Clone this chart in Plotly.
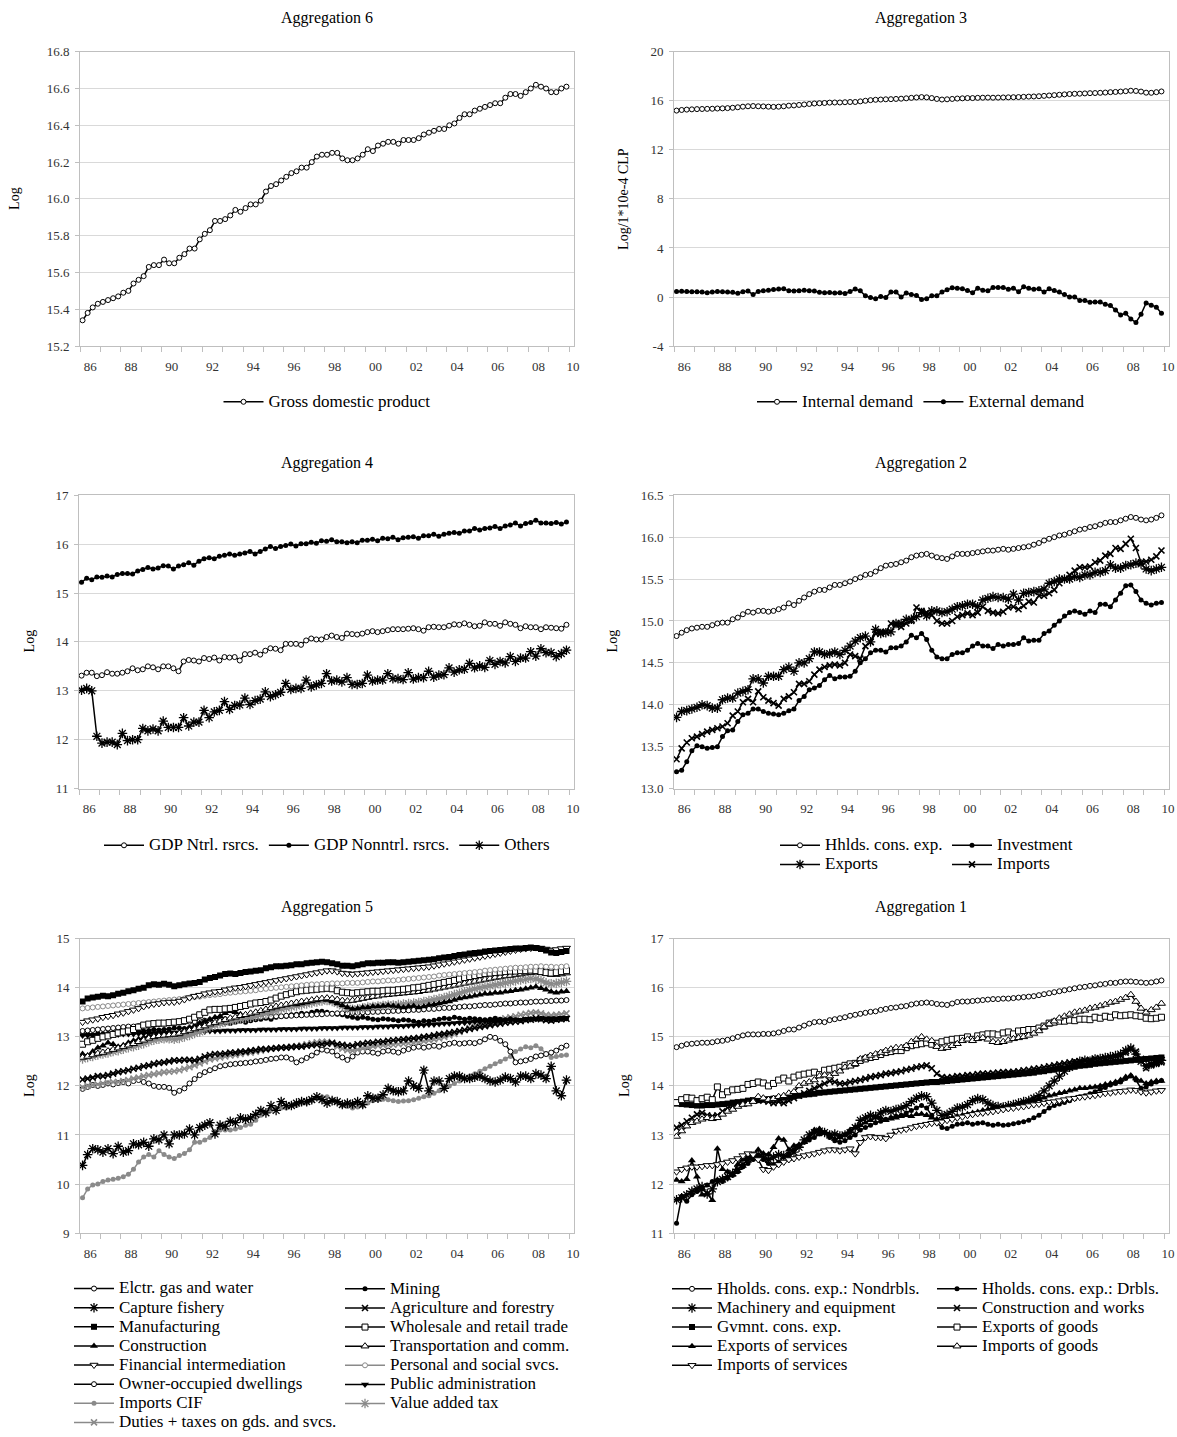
import plotly.graph_objects as go

# ---------------- time axis (quarterly 1986Q1 - 2009Q4) ----------------
YEARS = list(range(1986, 2010))
QUARTERS = [(y, q) for y in YEARS for q in (1, 2, 3, 4)]
XQ = [y + (q - 0.5) / 4 for (y, q) in QUARTERS]

TICK_TEXT = ["86", "88", "90", "92", "94", "96", "98", "00", "02", "04", "06", "08", "10"]

# ---------------- Aggregation 6 ----------------
gdp = [15.34,15.38,15.41,15.43, 15.44,15.45,15.46,15.47, 15.49,15.50,15.54,15.56, 15.58,15.63,15.64,15.64,
       15.67,15.65,15.65,15.68, 15.70,15.73,15.73,15.78, 15.81,15.83,15.88,15.88, 15.89,15.91,15.94,15.93,
       15.95,15.97,15.97,15.99, 16.04,16.07,16.08,16.10, 16.12,16.14,16.15,16.17, 16.17,16.20,16.23,16.24,
       16.24,16.25,16.25,16.22, 16.21,16.21,16.22,16.24, 16.27,16.26,16.29,16.30, 16.31,16.31,16.30,16.32,
       16.32,16.32,16.33,16.35, 16.36,16.37,16.38,16.38, 16.40,16.41,16.44,16.46, 16.46,16.48,16.49,16.50,
       16.51,16.52,16.52,16.55, 16.57,16.57,16.56,16.58, 16.60,16.62,16.61,16.60, 16.58,16.58,16.60,16.61]

# ---------------- Aggregation 3 ----------------
internal_demand = [15.20,15.25,15.28,15.30, 15.32,15.33,15.34,15.35, 15.37,15.38,15.40,15.43, 15.47,15.52,15.55,15.57,
                   15.55,15.54,15.52,15.50, 15.52,15.55,15.60,15.62, 15.66,15.70,15.74,15.78, 15.80,15.82,15.85,15.86,
                   15.86,15.88,15.90,15.90, 15.95,16.00,16.05,16.08, 16.10,16.12,16.13,16.15, 16.17,16.20,16.24,16.27,
                   16.30,16.28,16.22,16.15, 16.10,16.12,16.15,16.18, 16.20,16.22,16.22,16.24, 16.25,16.26,16.25,16.26,
                   16.27,16.28,16.29,16.30, 16.32,16.34,16.35,16.37, 16.40,16.43,16.46,16.49, 16.52,16.55,16.57,16.58,
                   16.60,16.62,16.63,16.65, 16.67,16.70,16.72,16.75, 16.78,16.82,16.80,16.75, 16.66,16.65,16.70,16.76]
external_demand = [0.45,0.46,0.45,0.42, 0.42,0.40,0.35,0.40, 0.45,0.42,0.40,0.38, 0.30,0.42,0.48,0.20,
                   0.45,0.50,0.55,0.62, 0.65,0.68,0.50,0.48, 0.50,0.55,0.52,0.48, 0.38,0.35,0.36,0.33,
                   0.35,0.28,0.45,0.65, 0.50,0.10,-0.05,-0.15, 0.05,-0.05,0.40,0.40, 0.00,0.32,0.21,0.13,
                   -0.20,-0.15,0.10,0.10, 0.40,0.60,0.75,0.72, 0.67,0.53,0.35,0.72, 0.56,0.50,0.77,0.77,
                   0.77,0.64,0.72,0.43, 0.83,0.72,0.64,0.67, 0.40,0.67,0.53,0.40, 0.21,0.00,0.00,-0.29,
                   -0.29,-0.43,-0.40,-0.40, -0.60,-0.70,-1.05,-1.47, -1.33,-1.79,-2.08,-1.41, -0.48,-0.67,-0.83,-1.33]

# ---------------- Aggregation 4 ----------------
gdp_ntrl = [13.31,13.37,13.37,13.30, 13.32,13.38,13.35,13.35, 13.37,13.40,13.46,13.42, 13.44,13.50,13.48,13.44,
            13.50,13.50,13.46,13.40, 13.60,13.63,13.62,13.60, 13.67,13.65,13.68,13.62, 13.69,13.68,13.69,13.62,
            13.75,13.75,13.78,13.74, 13.82,13.87,13.86,13.83, 13.96,13.96,13.96,13.94, 14.03,14.07,14.05,14.05,
            14.10,14.13,14.10,14.08, 14.17,14.16,14.15,14.17, 14.20,14.22,14.20,14.22, 14.24,14.26,14.26,14.26,
            14.27,14.28,14.26,14.23, 14.30,14.31,14.30,14.30, 14.33,14.36,14.35,14.38, 14.35,14.32,14.33,14.40,
            14.37,14.37,14.33,14.40, 14.37,14.35,14.28,14.32, 14.30,14.30,14.26,14.30, 14.29,14.28,14.27,14.35]
gdp_nonntrl = [15.22,15.30,15.27,15.33, 15.32,15.35,15.33,15.38, 15.40,15.40,15.39,15.45, 15.48,15.52,15.49,15.51,
               15.56,15.55,15.49,15.55, 15.58,15.62,15.57,15.65, 15.70,15.72,15.70,15.75, 15.77,15.80,15.77,15.80,
               15.82,15.85,15.80,15.85, 15.90,15.95,15.91,15.95, 15.97,16.00,15.96,16.01, 16.01,16.04,16.02,16.07,
               16.06,16.09,16.05,16.05, 16.03,16.05,16.03,16.08, 16.08,16.10,16.07,16.12, 16.11,16.14,16.09,16.13,
               16.14,16.15,16.12,16.17, 16.17,16.20,16.16,16.20, 16.22,16.24,16.22,16.27, 16.27,16.32,16.29,16.32,
               16.33,16.36,16.32,16.37, 16.39,16.43,16.37,16.42, 16.44,16.49,16.43,16.43, 16.42,16.44,16.41,16.45]
others = [13.01,13.05,13.00,12.07, 11.93,11.95,11.95,11.90, 12.13,11.98,12.00,12.00, 12.23,12.18,12.22,12.18,
          12.38,12.25,12.25,12.25, 12.45,12.28,12.36,12.36, 12.60,12.45,12.57,12.60, 12.78,12.62,12.70,12.71,
          12.85,12.72,12.80,12.83, 12.98,12.88,12.92,12.97, 13.15,13.03,13.05,13.05, 13.22,13.08,13.12,13.15,
          13.35,13.20,13.22,13.18, 13.27,13.13,13.13,13.15, 13.32,13.20,13.22,13.22, 13.35,13.25,13.25,13.23,
          13.37,13.24,13.27,13.27, 13.40,13.28,13.32,13.33, 13.47,13.38,13.43,13.44, 13.56,13.47,13.51,13.48,
          13.62,13.54,13.60,13.57, 13.70,13.60,13.67,13.67, 13.80,13.71,13.86,13.78, 13.78,13.70,13.76,13.83]

# ---------------- Aggregation 2 ----------------
hh_cons = [14.82,14.86,14.89,14.91, 14.92,14.93,14.93,14.95, 14.97,14.98,14.98,15.02, 15.04,15.08,15.11,15.10,
           15.12,15.12,15.11,15.12, 15.14,15.16,15.21,15.19, 15.24,15.28,15.32,15.35, 15.37,15.37,15.40,15.43,
           15.43,15.45,15.47,15.50, 15.52,15.55,15.56,15.59, 15.63,15.66,15.67,15.68, 15.70,15.72,15.76,15.78,
           15.79,15.80,15.78,15.76, 15.75,15.74,15.77,15.80, 15.80,15.80,15.81,15.82, 15.83,15.84,15.84,15.85,
           15.86,15.85,15.86,15.87, 15.88,15.89,15.91,15.93, 15.96,15.98,16.00,16.02, 16.03,16.05,16.07,16.09,
           16.10,16.12,16.13,16.15, 16.17,16.18,16.18,16.20, 16.22,16.24,16.23,16.21, 16.20,16.21,16.23,16.26]
investment = [13.20,13.22,13.32,13.45, 13.51,13.50,13.48,13.49, 13.50,13.62,13.69,13.70, 13.80,13.88,13.90,13.95,
              13.95,13.92,13.90,13.89, 13.88,13.90,13.93,13.95, 14.05,14.10,14.18,14.20, 14.23,14.30,14.35,14.31,
              14.33,14.33,14.34,14.40, 14.50,14.55,14.62,14.65, 14.65,14.63,14.68,14.68, 14.70,14.75,14.83,14.80,
              14.85,14.78,14.65,14.57, 14.55,14.55,14.60,14.62, 14.62,14.65,14.70,14.73, 14.70,14.70,14.67,14.72,
              14.70,14.72,14.72,14.73, 14.80,14.76,14.77,14.77, 14.85,14.88,14.95,15.00, 15.06,15.10,15.12,15.10,
              15.08,15.12,15.10,15.20, 15.20,15.17,15.25,15.33, 15.42,15.43,15.35,15.25, 15.21,15.19,15.21,15.22]
exports = [13.85,13.92,13.93,13.95, 13.97,14.00,13.99,13.96, 13.96,14.06,14.08,14.08, 14.14,14.16,14.18,14.31,
           14.31,14.26,14.34,14.34, 14.34,14.42,14.45,14.40, 14.50,14.50,14.55,14.63, 14.63,14.60,14.61,14.63,
           14.60,14.65,14.70,14.76, 14.80,14.82,14.75,14.90, 14.85,14.86,14.87,14.97, 14.97,15.02,15.02,15.05,
           15.10,15.06,15.12,15.12, 15.10,15.11,15.14,15.17, 15.18,15.20,15.20,15.17, 15.25,15.27,15.29,15.28,
           15.28,15.26,15.32,15.25, 15.33,15.34,15.35,15.36, 15.38,15.45,15.47,15.50, 15.50,15.50,15.53,15.52,
           15.55,15.55,15.58,15.58, 15.60,15.67,15.63,15.63, 15.66,15.67,15.69,15.68, 15.62,15.60,15.62,15.64]
imports = [13.35,13.48,13.55,13.60, 13.62,13.65,13.68,13.70, 13.72,13.74,13.78,13.87, 13.92,14.03,14.07,14.03,
           14.16,14.09,14.05,14.02, 13.99,14.07,14.10,14.15, 14.25,14.25,14.28,14.36, 14.42,14.45,14.47,14.48,
           14.47,14.50,14.60,14.58, 14.55,14.70,14.75,14.85, 14.87,14.87,14.97,14.95, 14.93,14.97,15.00,15.16,
           15.12,15.10,15.07,15.00, 14.97,14.97,15.00,15.05, 15.07,15.09,15.07,15.10, 15.17,15.12,15.10,15.09,
           15.11,15.16,15.17,15.14, 15.18,15.23,15.22,15.30, 15.30,15.33,15.37,15.45, 15.50,15.55,15.60,15.64,
           15.64,15.65,15.70,15.72, 15.78,15.80,15.87,15.86, 15.92,15.98,15.87,15.70, 15.71,15.73,15.77,15.84]

# ---------------- Aggregation 5 ----------------
elctr = [11.94,11.98,12.02,12.00, 12.02,12.05,12.03,12.06, 12.08,12.05,12.10,12.12, 12.08,12.05,12.00,11.98,
         11.98,11.96,11.86,11.90, 11.95,12.05,12.14,12.22, 12.28,12.32,12.36,12.40, 12.42,12.44,12.45,12.46,
         12.47,12.48,12.50,12.51, 12.53,12.55,12.56,12.58, 12.58,12.55,12.48,12.52, 12.57,12.62,12.68,12.74,
         12.72,12.70,12.62,12.58, 12.53,12.60,12.68,12.70, 12.70,12.68,12.66,12.70, 12.72,12.70,12.68,12.72,
         12.75,12.78,12.80,12.78, 12.80,12.82,12.80,12.84, 12.86,12.88,12.86,12.87, 12.88,12.87,12.90,12.95,
         13.00,12.98,12.92,12.85, 12.70,12.48,12.50,12.52, 12.55,12.60,12.62,12.65, 12.68,12.72,12.78,12.82]
mining = [13.05,13.06,13.04,13.07, 13.06,13.07,13.08,13.07, 13.08,13.10,13.09,13.11, 13.12,13.13,13.15,13.14,
          13.15,13.16,13.18,13.18, 13.17,13.19,13.22,13.24, 13.26,13.24,13.26,13.28, 13.28,13.27,13.30,13.32,
          13.30,13.33,13.35,13.36, 13.38,13.36,13.40,13.42, 13.42,13.45,13.46,13.48, 13.47,13.50,13.52,13.52,
          13.50,13.48,13.46,13.45, 13.42,13.40,13.38,13.40, 13.38,13.36,13.35,13.37, 13.36,13.35,13.33,13.35,
          13.34,13.32,13.30,13.33, 13.32,13.34,13.36,13.38, 13.37,13.40,13.38,13.36, 13.38,13.37,13.36,13.35,
          13.36,13.38,13.36,13.35, 13.37,13.35,13.34,13.36, 13.37,13.36,13.38,13.35, 13.34,13.35,13.36,13.37]
capture_fishery = [10.38,10.60,10.72,10.70, 10.65,10.72,10.62,10.77, 10.65,10.68,10.82,10.80, 10.85,10.77,10.92,10.90,
                   11.00,10.82,11.00,11.00, 11.02,11.12,11.00,11.15, 11.20,11.25,11.02,11.20, 11.18,11.28,11.25,11.35,
                   11.32,11.35,11.42,11.50, 11.45,11.60,11.50,11.68, 11.60,11.60,11.65,11.68, 11.68,11.72,11.78,11.72,
                   11.65,11.70,11.68,11.62, 11.65,11.63,11.68,11.62, 11.80,11.75,11.75,11.82, 11.95,11.90,11.88,11.90,
                   12.10,12.00,11.95,12.32, 11.90,12.10,12.10,11.95, 12.15,12.20,12.20,12.15, 12.15,12.18,12.20,12.15,
                   12.10,12.08,12.12,12.18, 12.15,12.08,12.20,12.20, 12.15,12.25,12.22,12.15, 12.40,11.90,11.80,12.12]
agriculture = [12.13,12.15,12.17,12.20, 12.20,12.22,12.25,12.28, 12.30,12.32,12.35,12.37, 12.40,12.42,12.45,12.47,
               12.48,12.50,12.52,12.52, 12.53,12.53,12.52,12.55, 12.60,12.63,12.65,12.65, 12.66,12.68,12.68,12.70,
               12.70,12.72,12.73,12.75, 12.75,12.76,12.77,12.78, 12.78,12.79,12.80,12.80, 12.82,12.83,12.84,12.85,
               12.86,12.88,12.85,12.84, 12.82,12.82,12.85,12.86, 12.88,12.88,12.90,12.90, 12.92,12.93,12.94,12.95,
               12.96,12.97,12.98,13.00, 13.01,13.03,13.05,13.06, 13.08,13.10,13.12,13.14, 13.16,13.18,13.20,13.22,
               13.24,13.26,13.27,13.29, 13.30,13.31,13.32,13.34, 13.35,13.38,13.36,13.34, 13.33,13.35,13.36,13.37]
manufacturing = [13.72,13.78,13.80,13.82, 13.84,13.83,13.85,13.88, 13.90,13.93,13.95,13.98, 14.00,14.05,14.07,14.06,
                 14.08,14.06,14.03,14.05, 14.07,14.09,14.10,14.12, 14.17,14.20,14.22,14.25, 14.28,14.29,14.28,14.30,
                 14.32,14.33,14.35,14.36, 14.40,14.42,14.44,14.44, 14.45,14.46,14.48,14.48, 14.50,14.51,14.52,14.53,
                 14.52,14.50,14.48,14.45, 14.45,14.44,14.46,14.48, 14.50,14.50,14.51,14.51, 14.52,14.52,14.51,14.52,
                 14.53,14.54,14.55,14.56, 14.57,14.58,14.60,14.62, 14.63,14.65,14.67,14.68, 14.70,14.71,14.72,14.74,
                 14.75,14.76,14.77,14.78, 14.79,14.80,14.80,14.81, 14.82,14.81,14.79,14.76, 14.72,14.71,14.73,14.75]
wholesale = [12.85,12.90,12.93,12.97, 13.00,13.02,13.05,13.08, 13.10,13.12,13.15,13.20, 13.24,13.26,13.27,13.28,
             13.28,13.29,13.30,13.31, 13.33,13.36,13.40,13.45, 13.50,13.55,13.56,13.56, 13.57,13.58,13.60,13.62,
             13.64,13.67,13.69,13.70, 13.72,13.75,13.79,13.83, 13.86,13.89,13.92,13.94, 13.95,13.96,13.97,13.98,
             13.99,13.98,13.94,13.91, 13.90,13.89,13.90,13.91, 13.92,13.93,13.93,13.94, 13.95,13.95,13.96,13.97,
             13.98,14.00,14.01,14.03, 14.05,14.07,14.09,14.11, 14.13,14.15,14.18,14.21, 14.23,14.25,14.27,14.29,
             14.30,14.31,14.32,14.33, 14.34,14.34,14.35,14.35, 14.36,14.35,14.33,14.31, 14.30,14.31,14.33,14.35]
construction = [12.65,12.62,12.70,12.78, 12.82,12.88,12.85,12.80, 12.83,12.88,12.92,12.95, 12.98,13.02,13.05,13.08,
                13.08,13.06,13.04,13.05, 13.10,13.15,13.20,13.28, 13.32,13.36,13.40,13.42, 13.48,13.52,13.50,13.46,
                13.45,13.47,13.50,13.52, 13.55,13.58,13.60,13.63, 13.65,13.67,13.66,13.68, 13.70,13.72,13.74,13.76,
                13.75,13.72,13.68,13.64, 13.60,13.57,13.58,13.60, 13.60,13.62,13.62,13.63, 13.64,13.63,13.62,13.60,
                13.62,13.63,13.60,13.62, 13.65,13.66,13.68,13.70, 13.72,13.75,13.78,13.80, 13.82,13.84,13.86,13.88,
                13.88,13.90,13.90,13.92, 13.93,13.95,13.96,13.98, 14.00,14.02,13.99,13.96, 13.92,13.90,13.92,13.93]
transport = [12.58,12.60,12.63,12.66, 12.68,12.71,12.74,12.77, 12.80,12.83,12.86,12.90, 12.93,12.97,13.00,13.02,
             13.03,13.04,13.05,13.07, 13.10,13.13,13.16,13.19, 13.22,13.26,13.29,13.32, 13.35,13.38,13.40,13.43,
             13.45,13.48,13.50,13.53, 13.56,13.59,13.62,13.64, 13.66,13.68,13.70,13.72, 13.73,13.75,13.77,13.78,
             13.79,13.78,13.76,13.74, 13.73,13.74,13.76,13.78, 13.80,13.82,13.83,13.85, 13.86,13.87,13.88,13.89,
             13.90,13.91,13.92,13.94, 13.95,13.97,13.99,14.01, 14.03,14.05,14.07,14.09, 14.11,14.13,14.15,14.17,
             14.19,14.21,14.22,14.24, 14.25,14.27,14.28,14.30, 14.31,14.32,14.31,14.29, 14.27,14.27,14.28,14.30]
financial = [13.30,13.33,13.35,13.37, 13.40,13.42,13.44,13.47, 13.49,13.52,13.55,13.58, 13.62,13.65,13.67,13.68,
             13.70,13.71,13.71,13.73, 13.76,13.80,13.83,13.85, 13.88,13.90,13.92,13.93, 13.96,13.98,14.00,14.01,
             14.03,14.05,14.07,14.09, 14.11,14.13,14.15,14.17, 14.19,14.21,14.23,14.25, 14.27,14.29,14.31,14.33,
             14.35,14.35,14.33,14.30, 14.29,14.28,14.29,14.30, 14.31,14.32,14.33,14.34, 14.35,14.36,14.37,14.38,
             14.39,14.40,14.41,14.42, 14.43,14.45,14.47,14.49, 14.51,14.53,14.55,14.57, 14.59,14.61,14.63,14.65,
             14.67,14.69,14.71,14.73, 14.75,14.77,14.79,14.80, 14.81,14.82,14.81,14.79, 14.77,14.78,14.80,14.81]
personal = [13.58,13.59,13.60,13.61, 13.62,13.63,13.64,13.65, 13.66,13.67,13.68,13.69, 13.70,13.71,13.72,13.73,
            13.74,13.75,13.76,13.77, 13.78,13.80,13.81,13.82, 13.84,13.85,13.86,13.87, 13.89,13.90,13.91,13.92,
            13.93,13.94,13.95,13.97, 13.98,13.99,14.00,14.01, 14.02,14.03,14.04,14.05, 14.06,14.07,14.07,14.08,
            14.08,14.09,14.09,14.09, 14.10,14.10,14.10,14.11, 14.12,14.13,14.13,14.14, 14.15,14.15,14.16,14.17,
            14.18,14.19,14.20,14.21, 14.22,14.23,14.25,14.26, 14.27,14.28,14.29,14.30, 14.31,14.32,14.33,14.35,
            14.36,14.37,14.38,14.39, 14.40,14.41,14.41,14.42, 14.43,14.43,14.44,14.43, 14.43,14.42,14.43,14.44]
owner_occupied = [13.12,13.13,13.14,13.15, 13.16,13.17,13.18,13.19, 13.20,13.21,13.21,13.22, 13.23,13.24,13.25,13.26,
                  13.27,13.28,13.28,13.29, 13.30,13.31,13.31,13.32, 13.33,13.34,13.34,13.35, 13.36,13.36,13.37,13.38,
                  13.38,13.39,13.40,13.40, 13.41,13.41,13.42,13.42, 13.43,13.43,13.44,13.44, 13.45,13.45,13.46,13.46,
                  13.47,13.47,13.48,13.48, 13.48,13.49,13.49,13.50, 13.50,13.51,13.51,13.52, 13.52,13.53,13.53,13.54,
                  13.54,13.55,13.55,13.56, 13.57,13.57,13.58,13.59, 13.59,13.60,13.61,13.62, 13.62,13.63,13.64,13.65,
                  13.65,13.66,13.67,13.68, 13.68,13.69,13.70,13.70, 13.71,13.72,13.72,13.73, 13.73,13.74,13.74,13.75]
public_admin = [13.03,13.03,13.04,13.04, 13.04,13.05,13.05,13.05, 13.06,13.06,13.06,13.07, 13.07,13.07,13.08,13.08,
                13.08,13.09,13.09,13.09, 13.10,13.10,13.11,13.11, 13.11,13.12,13.12,13.12, 13.13,13.13,13.13,13.14,
                13.14,13.14,13.14,13.15, 13.15,13.15,13.15,13.16, 13.16,13.16,13.16,13.17, 13.17,13.17,13.17,13.18,
                13.18,13.18,13.18,13.19, 13.19,13.19,13.19,13.20, 13.20,13.20,13.21,13.21, 13.21,13.22,13.22,13.22,
                13.23,13.23,13.24,13.24, 13.25,13.25,13.26,13.27, 13.27,13.28,13.29,13.29, 13.30,13.31,13.31,13.32,
                13.32,13.33,13.33,13.34, 13.34,13.35,13.35,13.36, 13.36,13.37,13.37,13.38, 13.38,13.38,13.39,13.39]
imports_cif = [9.72,9.90,9.98,10.00, 10.05,10.08,10.10,10.12, 10.15,10.20,10.30,10.45, 10.55,10.60,10.55,10.68,
               10.60,10.55,10.52,10.58, 10.62,10.70,10.85,10.85, 10.90,10.95,11.02,11.10, 11.10,11.10,11.12,11.15,
               11.20,11.22,11.30,11.40, 11.45,11.50,11.55,11.55, 11.55,11.60,11.60,11.65, 11.65,11.70,11.75,11.78,
               11.78,11.72,11.68,11.60, 11.58,11.55,11.57,11.60, 11.65,11.70,11.72,11.73, 11.72,11.70,11.68,11.69,
               11.70,11.72,11.75,11.78, 11.80,11.85,11.90,11.95, 12.00,12.05,12.10,12.15, 12.20,12.25,12.30,12.35,
               12.40,12.45,12.50,12.55, 12.60,12.70,12.75,12.80, 12.78,12.82,12.76,12.65, 12.58,12.60,12.62,12.63]
vat = [12.55,12.58,12.60,12.63, 12.65,12.67,12.70,12.72, 12.75,12.78,12.80,12.83, 12.86,12.90,12.93,12.95,
       12.96,12.96,12.95,12.97, 13.00,13.03,13.07,13.10, 13.15,13.20,13.24,13.27, 13.30,13.32,13.34,13.36,
       13.38,13.40,13.42,13.45, 13.48,13.51,13.54,13.57, 13.59,13.61,13.63,13.65, 13.67,13.69,13.71,13.73,
       13.74,13.72,13.68,13.63, 13.58,13.56,13.57,13.59, 13.61,13.62,13.63,13.64, 13.65,13.65,13.66,13.67,
       13.68,13.69,13.70,13.72, 13.74,13.76,13.78,13.80, 13.83,13.86,13.89,13.92, 13.95,13.98,14.00,14.02,
       14.04,14.06,14.08,14.10, 14.12,14.14,14.16,14.17, 14.19,14.18,14.15,14.10, 14.08,14.09,14.11,14.13]
duties = [11.97,12.00,12.02,12.03, 12.05,12.06,12.08,12.08, 12.10,12.12,12.15,12.17, 12.20,12.22,12.24,12.26,
          12.28,12.29,12.30,12.32, 12.35,12.38,12.42,12.46, 12.50,12.54,12.56,12.58, 12.60,12.62,12.63,12.65,
          12.67,12.68,12.70,12.72, 12.74,12.76,12.77,12.78, 12.79,12.80,12.81,12.83, 12.85,12.87,12.89,12.90,
          12.90,12.86,12.80,12.76, 12.73,12.72,12.74,12.77, 12.79,12.81,12.82,12.83, 12.84,12.84,12.85,12.86,
          12.87,12.88,12.89,12.91, 12.93,12.95,12.97,13.00, 13.03,13.06,13.10,13.14, 13.18,13.21,13.24,13.27,
          13.30,13.33,13.35,13.38, 13.40,13.42,13.45,13.47, 13.49,13.50,13.48,13.45, 13.44,13.45,13.46,13.48]

# ---------------- Aggregation 1 ----------------
hh_nondur = [14.79,14.82,14.85,14.86, 14.87,14.88,14.88,14.89, 14.91,14.92,14.94,14.97, 15.00,15.03,15.05,15.05,
             15.05,15.06,15.06,15.07, 15.09,15.12,15.15,15.15, 15.19,15.23,15.27,15.30, 15.31,15.30,15.34,15.36,
             15.38,15.40,15.43,15.45, 15.47,15.49,15.51,15.52, 15.55,15.57,15.59,15.60, 15.62,15.63,15.66,15.68,
             15.69,15.70,15.69,15.67, 15.66,15.65,15.68,15.71, 15.72,15.72,15.73,15.74, 15.75,15.76,15.77,15.77,
             15.78,15.78,15.79,15.80, 15.81,15.82,15.83,15.85, 15.87,15.89,15.91,15.93, 15.95,15.97,15.99,16.01,
             16.02,16.04,16.05,16.07, 16.08,16.10,16.10,16.12, 16.13,16.13,16.12,16.11, 16.10,16.11,16.13,16.15]
hh_dur = [11.20,11.75,11.65,11.78, 11.85,11.90,11.98,12.05, 12.08,12.05,12.12,12.18, 12.25,12.35,12.42,12.50,
          12.55,12.50,12.42,12.40, 12.45,12.55,12.62,12.70, 12.78,12.85,12.90,12.95, 13.02,13.05,12.95,12.88,
          12.85,12.88,12.95,13.00, 13.10,13.15,13.20,13.25, 13.28,13.32,13.35,13.38, 13.40,13.45,13.50,13.55,
          13.60,13.55,13.40,13.25, 13.15,13.13,13.18,13.22, 13.23,13.25,13.22,13.24, 13.25,13.22,13.20,13.22,
          13.20,13.21,13.23,13.25, 13.27,13.30,13.35,13.40, 13.48,13.55,13.60,13.63, 13.66,13.70,13.74,13.78,
          13.80,13.84,13.88,13.93, 13.97,14.02,14.05,14.08, 14.15,14.20,14.12,13.95, 13.98,14.04,14.08,14.11]
machinery = [11.68,11.72,11.78,11.85, 11.90,11.95,11.80,11.90, 12.05,12.10,12.15,12.22, 12.30,12.40,12.50,12.55,
             12.60,12.55,12.50,12.55, 12.60,12.58,12.55,12.65, 12.75,12.90,13.00,13.05, 13.08,13.05,13.00,13.02,
             12.98,13.00,13.05,13.15, 13.30,13.35,13.40,13.38, 13.45,13.50,13.48,13.52, 13.55,13.60,13.68,13.75,
             13.80,13.78,13.65,13.50, 13.40,13.42,13.48,13.55, 13.57,13.62,13.70,13.74, 13.72,13.65,13.60,13.58,
             13.57,13.60,13.62,13.65, 13.68,13.70,13.75,13.80, 13.90,14.00,14.10,14.20, 14.30,14.38,14.45,14.50,
             14.52,14.50,14.55,14.56, 14.58,14.60,14.62,14.65, 14.72,14.77,14.65,14.50, 14.41,14.45,14.48,14.52]
constr_works = [13.15,13.20,13.28,13.35, 13.42,13.45,13.40,13.38, 13.40,13.48,13.55,13.58, 13.62,13.65,13.68,13.70,
                13.72,13.70,13.68,13.65, 13.68,13.65,13.70,13.75, 13.80,13.85,13.90,13.95, 14.00,14.05,14.10,14.08,
                14.05,14.05,14.08,14.10, 14.12,14.15,14.18,14.20, 14.22,14.25,14.26,14.28, 14.30,14.33,14.35,14.38,
                14.40,14.42,14.36,14.25, 14.18,14.17,14.18,14.20, 14.20,14.22,14.22,14.24, 14.25,14.25,14.26,14.27,
                14.28,14.28,14.29,14.30, 14.32,14.33,14.35,14.36, 14.38,14.40,14.42,14.44, 14.46,14.48,14.50,14.50,
                14.52,14.53,14.55,14.55, 14.56,14.58,14.60,14.62, 14.68,14.75,14.70,14.55, 14.36,14.42,14.45,14.48]
gov_cons = [13.64,13.63,13.62,13.61, 13.60,13.60,13.61,13.61, 13.62,13.63,13.64,13.66, 13.67,13.68,13.70,13.71,
            13.71,13.72,13.73,13.74, 13.75,13.76,13.78,13.79, 13.80,13.82,13.83,13.84, 13.86,13.87,13.88,13.89,
            13.90,13.91,13.92,13.93, 13.94,13.95,13.96,13.97, 13.98,13.99,14.00,14.01, 14.02,14.03,14.04,14.05,
            14.06,14.07,14.08,14.08, 14.09,14.10,14.11,14.12, 14.13,14.14,14.15,14.16, 14.17,14.18,14.19,14.20,
            14.21,14.22,14.23,14.24, 14.25,14.26,14.27,14.29, 14.30,14.32,14.33,14.35, 14.36,14.38,14.39,14.41,
            14.42,14.43,14.45,14.46, 14.47,14.48,14.49,14.50, 14.51,14.52,14.53,14.54, 14.55,14.56,14.57,14.58]
exports_goods = [13.66,13.72,13.76,13.75, 13.70,13.74,13.77,13.72, 13.98,13.82,13.88,13.92, 13.93,13.95,14.03,14.05,
                 14.08,14.06,14.00,14.05, 14.12,14.16,14.10,14.18, 14.22,14.24,14.26,14.28, 14.23,14.32,14.34,14.36,
                 14.38,14.42,14.45,14.46, 14.52,14.55,14.58,14.60, 14.64,14.68,14.70,14.72, 14.72,14.78,14.82,14.84,
                 14.86,14.88,14.85,14.87, 14.90,14.93,14.95,14.96, 14.97,15.00,14.95,15.02, 15.04,15.06,15.06,15.04,
                 15.08,15.10,15.06,15.12, 15.13,15.15,15.15,15.18, 15.22,15.28,15.30,15.32, 15.32,15.34,15.33,15.36,
                 15.36,15.35,15.40,15.38, 15.42,15.40,15.45,15.43, 15.44,15.45,15.43,15.42, 15.38,15.37,15.38,15.40]
exports_services = [12.08,12.05,12.10,12.48, 12.15,11.78,11.80,11.67, 12.72,12.30,12.25,12.20, 12.40,12.50,12.55,12.60,
                    12.70,12.62,12.60,12.75, 12.93,12.90,12.70,12.78, 12.80,12.85,12.95,13.10, 13.12,13.05,13.00,12.92,
                    12.95,13.00,13.10,13.15, 13.20,13.25,13.30,13.35, 13.35,13.30,13.33,13.35, 13.38,13.40,13.38,13.42,
                    13.43,13.40,13.35,13.32, 13.30,13.33,13.35,13.38, 13.40,13.42,13.45,13.47, 13.50,13.52,13.55,13.55,
                    13.57,13.58,13.60,13.62, 13.65,13.68,13.70,13.73, 13.76,13.80,13.82,13.85, 13.87,13.90,13.92,13.95,
                    13.95,13.97,13.98,14.00, 14.03,14.05,14.08,14.12, 14.18,14.21,14.15,14.10, 14.05,14.08,14.10,14.10]
imports_goods = [12.97,13.08,13.18,13.25, 13.28,13.32,13.35,13.33, 13.35,13.42,13.48,13.52, 13.58,13.62,13.63,13.68,
                 13.78,13.75,13.72,13.74, 13.78,13.80,13.85,13.88, 14.00,14.05,14.08,14.12, 14.20,14.22,14.20,14.25,
                 14.30,14.38,14.40,14.45, 14.55,14.58,14.62,14.65, 14.68,14.72,14.75,14.78, 14.78,14.82,14.90,14.95,
                 15.00,14.95,14.92,14.80, 14.76,14.78,14.82,14.86, 14.92,14.95,14.92,14.96, 14.98,14.95,14.90,14.88,
                 14.90,14.93,14.96,14.98, 15.00,15.03,15.07,15.12, 15.20,15.26,15.32,15.38, 15.42,15.46,15.50,15.52,
                 15.54,15.58,15.60,15.63, 15.66,15.70,15.72,15.76, 15.80,15.86,15.72,15.58, 15.50,15.55,15.60,15.68]
imports_services = [12.25,12.30,12.33,12.35, 12.35,12.36,12.38,12.38, 12.40,12.42,12.45,12.48, 12.52,12.58,12.62,12.60,
                    12.50,12.30,12.28,12.35, 12.40,12.45,12.50,12.52, 12.55,12.58,12.60,12.62, 12.65,12.68,12.70,12.70,
                    12.68,12.70,12.72,12.62, 12.85,12.95,12.97,12.95, 12.95,12.93,13.00,13.08, 13.10,13.12,13.15,13.18,
                    13.20,13.22,13.24,13.25, 13.27,13.30,13.32,13.35, 13.37,13.40,13.42,13.44, 13.45,13.47,13.48,13.50,
                    13.52,13.54,13.55,13.57, 13.58,13.60,13.62,13.63, 13.65,13.67,13.68,13.70, 13.72,13.74,13.75,13.77,
                    13.78,13.80,13.81,13.83, 13.85,13.86,13.88,13.89, 13.90,13.92,13.91,13.88, 13.86,13.88,13.90,13.91]

# ---------------- styling ----------------
W, H = 1177, 1437
FONT = "Liberation Serif"
BLACK = "#000000"
GRAY = "#8a8a8a"
LEGTXT = 17


def px(x):
    return x / W


def py(y):
    return 1 - y / H


def marker(kind, color):
    if kind == "oc":
        return dict(symbol="circle", size=5, color="white", line=dict(color=color, width=1))
    if kind == "fc":
        return dict(symbol="circle", size=5, color=color, line=dict(color=color, width=0))
    if kind == "ast":
        return dict(symbol="asterisk-open", size=8, color=color, line=dict(color=color, width=1.3))
    if kind == "x":
        return dict(symbol="x-thin-open", size=6, color=color, line=dict(color=color, width=1.6))
    if kind == "fs":
        return dict(symbol="square", size=6, color=color, line=dict(color=color, width=0))
    if kind == "os":
        return dict(symbol="square", size=6, color="white", line=dict(color=color, width=1))
    if kind == "ft":
        return dict(symbol="triangle-up", size=7, color=color, line=dict(color=color, width=0))
    if kind == "ot":
        return dict(symbol="triangle-up", size=7, color="white", line=dict(color=color, width=1))
    if kind == "ftd":
        return dict(symbol="triangle-down", size=7, color=color, line=dict(color=color, width=0))
    if kind == "otd":
        return dict(symbol="triangle-down", size=7, color="white", line=dict(color=color, width=1))
    raise ValueError(kind)


fig = go.Figure()
SPAN = '<span style="font-size:%dpx">' % LEGTXT


def add(vals, name, kind, ax, legend, color=BLACK, lw=1.5, rank=None):
    fig.add_trace(go.Scatter(
        x=XQ[:len(vals)], y=vals, mode="lines+markers",
        name=SPAN + name + '</span>',
        line=dict(color=color, width=lw), marker=marker(kind, color),
        xaxis="x" + ax, yaxis="y" + ax, legend=legend, hoverinfo="skip",
        legendrank=rank if rank is not None else 1000))


# Aggregation 6 -> axis 1
add(gdp, "Gross domestic product", "oc", "", "legend")
# Aggregation 3 -> axis 2
add(internal_demand, "Internal demand", "oc", "2", "legend2")
add(external_demand, "External demand", "fc", "2", "legend2")
# Aggregation 4 -> axis 3
add(gdp_ntrl, "GDP Ntrl. rsrcs.", "oc", "3", "legend3")
add(gdp_nonntrl, "GDP Nonntrl. rsrcs.", "fc", "3", "legend3")
add(others, "Others", "ast", "3", "legend3")
# Aggregation 2 -> axis 4
add(hh_cons, "Hhlds. cons. exp.", "oc", "4", "legend4")
add(exports, "Exports", "ast", "4", "legend4")
add(investment, "Investment", "fc", "4", "legend5")
add(imports, "Imports", "x", "4", "legend5")
# Aggregation 5 -> axis 5 (column 1: legend6, column 2: legend7)
add(imports_cif, "Imports CIF", "fc", "5", "legend6", GRAY, rank=7)
add(capture_fishery, "Capture fishery", "ast", "5", "legend6", rank=2)
add(elctr, "Elctr. gas and water", "oc", "5", "legend6", rank=1)
add(duties, "Duties + taxes on gds. and svcs.", "x", "5", "legend6", GRAY, rank=8)
add(agriculture, "Agriculture and forestry", "x", "5", "legend7", rank=2)
add(mining, "Mining", "fc", "5", "legend7", rank=1)
add(public_admin, "Public administration", "ftd", "5", "legend7", rank=6)
add(owner_occupied, "Owner-occupied dwellings", "oc", "5", "legend6", rank=6)
add(vat, "Value added tax", "ast", "5", "legend7", GRAY, rank=7)
add(construction, "Construction", "ft", "5", "legend6", rank=4)
add(transport, "Transportation and comm.", "ot", "5", "legend7", rank=4)
add(wholesale, "Wholesale and retail trade", "os", "5", "legend7", rank=3)
add(personal, "Personal and social svcs.", "oc", "5", "legend7", GRAY, rank=5)
add(financial, "Financial intermediation", "otd", "5", "legend6", rank=5)
add(manufacturing, "Manufacturing", "fs", "5", "legend6", rank=3)
# Aggregation 1 -> axis 6
add(hh_nondur, "Hholds. cons. exp.: Nondrbls.", "oc", "6", "legend8")
add(hh_dur, "Hholds. cons. exp.: Drbls.", "fc", "6", "legend9")
add(machinery, "Machinery and equipment", "ast", "6", "legend8")
add(constr_works, "Construction and works", "x", "6", "legend9")
add(gov_cons, "Gvmnt. cons. exp.", "fs", "6", "legend8")
add(exports_goods, "Exports of goods", "os", "6", "legend9")
add(exports_services, "Exports of services", "ft", "6", "legend8")
add(imports_goods, "Imports of goods", "ot", "6", "legend9")
add(imports_services, "Imports of services", "otd", "6", "legend8")

# ---------------- axes ----------------
PANELS = {
    "":  dict(x=(80, 574), y=(52, 348), rng=[15.2, 16.8], vals=[15.2 + 0.2 * k for k in range(9)], fmt="{:.1f}"),
    "2": dict(x=(674, 1169), y=(52, 348), rng=[-4, 20], vals=[-4 + 4 * k for k in range(7)], fmt="{:.0f}"),
    "3": dict(x=(79, 574), y=(498, 793), rng=[11, 17], vals=list(range(11, 18)), fmt="{:.0f}"),
    "4": dict(x=(674, 1169), y=(498, 793), rng=[13, 16.5], vals=[13 + 0.5 * k for k in range(8)], fmt="{:.1f}"),
    "5": dict(x=(80, 574), y=(944, 1240), rng=[9, 15], vals=list(range(9, 16)), fmt="{:.0f}"),
    "6": dict(x=(674, 1169), y=(944, 1240), rng=[11, 17], vals=list(range(11, 18)), fmt="{:.0f}"),
}

label_pos = [1986.5 + 2 * k for k in range(12)] + [2010.2]
year_ticks = list(range(1986, 2011))
AXC = "#bfbfbf"
TICKFONT = dict(family=FONT, size=13, color="#333333")

layout = {}
for key, p in PANELS.items():
    layout["xaxis" + key] = dict(
        domain=[px(p["x"][0]), px(p["x"][1])], range=[1986, 2010.245], anchor="y" + key,
        tickmode="array", tickvals=label_pos, ticktext=TICK_TEXT, ticks="", showgrid=False,
        zeroline=False, showline=True, linecolor=AXC, linewidth=1, mirror=True,
        tickfont=TICKFONT, ticklabelstandoff=8,
        minor=dict(tickmode="array", tickvals=year_ticks, ticks="outside", ticklen=5,
                   tickcolor=AXC, tickwidth=1, showgrid=False),
    )
    layout["yaxis" + key] = dict(
        domain=[py(p["y"][1]), py(p["y"][0])], range=p["rng"], anchor="x" + key,
        tickmode="array", tickvals=p["vals"], ticktext=[p["fmt"].format(v) for v in p["vals"]],
        showgrid=True, gridcolor="#d9d9d9", gridwidth=1, zeroline=False,
        showline=True, linecolor=AXC, linewidth=1, mirror=True,
        ticks="outside", ticklen=4, tickcolor=AXC, tickfont=TICKFONT, ticklabelstandoff=3,
    )

# ---------------- legends ----------------
LEGBASE = dict(font=dict(family=FONT, size=12.4, color="black"), bgcolor="rgba(0,0,0,0)",
               borderwidth=0, itemwidth=40, tracegroupgap=0, itemclick=False, itemdoubleclick=False)
OFF = 14.6
layout["legend"] = dict(LEGBASE, orientation="h", x=px(327), xanchor="center", y=py(404 - OFF), yanchor="top")
layout["legend2"] = dict(LEGBASE, orientation="h", x=px(921), xanchor="center", y=py(404 - OFF), yanchor="top")
layout["legend3"] = dict(LEGBASE, orientation="h", x=px(327), xanchor="center", y=py(850 - OFF), yanchor="top")
layout["legend4"] = dict(LEGBASE, orientation="v", x=px(775), xanchor="left", y=py(850 - OFF), yanchor="top")
layout["legend5"] = dict(LEGBASE, orientation="v", x=px(947), xanchor="left", y=py(850 - OFF), yanchor="top")
layout["legend6"] = dict(LEGBASE, orientation="v", x=px(69), xanchor="left", y=py(1296 - OFF), yanchor="top")
layout["legend7"] = dict(LEGBASE, orientation="v", x=px(340), xanchor="left", y=py(1296 - OFF), yanchor="top")
layout["legend8"] = dict(LEGBASE, orientation="v", x=px(667), xanchor="left", y=py(1296 - OFF), yanchor="top")
layout["legend9"] = dict(LEGBASE, orientation="v", x=px(932), xanchor="left", y=py(1296 - OFF), yanchor="top")

# ---------------- titles ----------------
annotations = []
TITLES = [("Aggregation 6", 327, 18), ("Aggregation 3", 921, 18),
          ("Aggregation 4", 327, 466), ("Aggregation 2", 921, 466),
          ("Aggregation 5", 327, 912), ("Aggregation 1", 921, 912)]
for t, x, y in TITLES:
    annotations.append(dict(text=t, x=px(x), y=py(y), xref="paper", yref="paper", showarrow=False,
                            xanchor="center", yanchor="middle", font=dict(family=FONT, size=16, color="black")))
YTITLES = [("Log", 15, 200), ("Log/1*10e-4 CLP", 624, 200),
           ("Log", 29, 645), ("Log", 612, 645),
           ("Log", 30, 1092), ("Log", 625, 1092)]
for t, x, y in YTITLES:
    annotations.append(dict(text=t, x=px(x), y=py(y), xref="paper", yref="paper", showarrow=False,
                            textangle=-90, xanchor="center", yanchor="middle",
                            font=dict(family=FONT, size=14, color="black")))

fig.update_layout(
    template="none", width=W, height=H, margin=dict(l=0, r=0, t=0, b=0, pad=0),
    paper_bgcolor="white", plot_bgcolor="white", showlegend=True, hovermode=False,
    font=dict(family=FONT, color="black"), annotations=annotations, **layout)

# remove the browser's default 8px body margin so the figure fills the window exactly
fig.write_html("out.html", config={"displayModeBar": False},
               post_script="document.body.style.margin='0';document.body.style.overflow='hidden';")
